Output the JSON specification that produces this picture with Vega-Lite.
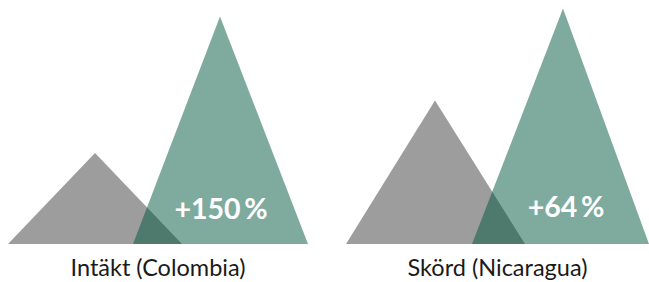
{
  "$schema": "https://vega.github.io/schema/vega-lite/v6.json",
  "background": "white",
  "padding": {"left": 8, "top": 0, "right": 0, "bottom": 0},
  "spacing": 38,
  "config": {"view": {"stroke": null}, "font": "Lato"},
  "hconcat": [
    {
      "width": 300,
      "height": 244,
      "title": {"text": "Intäkt (Colombia)", "orient": "bottom", "anchor": "middle", "baseline": "alphabetic", "fontSize": 23.5, "font": "Lato", "fontWeight": "normal", "color": "#1a1a1a", "offset": 32},
      "data": {"values": [
        {"serie": "före", "x": 0, "v": 0},
        {"serie": "före", "x": 87, "v": 1},
        {"serie": "före", "x": 174, "v": 0},
        {"serie": "efter", "x": 125, "v": 0},
        {"serie": "efter", "x": 212, "v": 2.5},
        {"serie": "efter", "x": 300, "v": 0}
      ]},
      "layer": [
        {
          "transform": [{"filter": "datum.serie == 'före'"}],
          "mark": {"type": "area", "color": "#9d9d9d", "opacity": 1},
          "encoding": {
            "x": {"field": "x", "type": "quantitative", "scale": {"domain": [0, 300], "nice": false, "zero": false}, "axis": null},
            "y": {"field": "v", "type": "quantitative", "scale": {"domain": [0, 2.68], "nice": false}, "axis": null}
          }
        },
        {
          "transform": [{"filter": "datum.serie == 'efter'"}],
          "mark": {"type": "area", "color": "#00573f", "opacity": 0.5},
          "encoding": {
            "x": {"field": "x", "type": "quantitative"},
            "y": {"field": "v", "type": "quantitative"}
          }
        },
        {
          "data": {"values": [{"x": 213, "v": 0.28, "label": "+150\u2009%"}]},
          "mark": {"type": "text", "color": "white", "font": "Lato", "fontWeight": "bold", "fontSize": 28.5, "align": "center", "baseline": "alphabetic"},
          "encoding": {
            "x": {"field": "x", "type": "quantitative"},
            "y": {"field": "v", "type": "quantitative"},
            "text": {"field": "label"}
          }
        }
      ]
    },
    {
      "width": 303,
      "height": 244,
      "title": {"text": "Skörd (Nicaragua)", "orient": "bottom", "anchor": "middle", "baseline": "alphabetic", "fontSize": 23.5, "font": "Lato", "fontWeight": "normal", "color": "#1a1a1a", "offset": 32},
      "data": {"values": [
        {"serie": "före", "x": 0, "v": 0},
        {"serie": "före", "x": 89, "v": 1},
        {"serie": "före", "x": 179, "v": 0},
        {"serie": "efter", "x": 126, "v": 0},
        {"serie": "efter", "x": 217, "v": 1.64},
        {"serie": "efter", "x": 303, "v": 0}
      ]},
      "layer": [
        {
          "transform": [{"filter": "datum.serie == 'före'"}],
          "mark": {"type": "area", "color": "#9d9d9d", "opacity": 1},
          "encoding": {
            "x": {"field": "x", "type": "quantitative", "scale": {"domain": [0, 303], "nice": false, "zero": false}, "axis": null},
            "y": {"field": "v", "type": "quantitative", "scale": {"domain": [0, 1.7], "nice": false}, "axis": null}
          }
        },
        {
          "transform": [{"filter": "datum.serie == 'efter'"}],
          "mark": {"type": "area", "color": "#00573f", "opacity": 0.5},
          "encoding": {
            "x": {"field": "x", "type": "quantitative"},
            "y": {"field": "v", "type": "quantitative"}
          }
        },
        {
          "data": {"values": [{"x": 220, "v": 0.188, "label": "+64\u2009%"}]},
          "mark": {"type": "text", "color": "white", "font": "Lato", "fontWeight": "bold", "fontSize": 28.5, "align": "center", "baseline": "alphabetic"},
          "encoding": {
            "x": {"field": "x", "type": "quantitative"},
            "y": {"field": "v", "type": "quantitative"},
            "text": {"field": "label"}
          }
        }
      ]
    }
  ]
}
